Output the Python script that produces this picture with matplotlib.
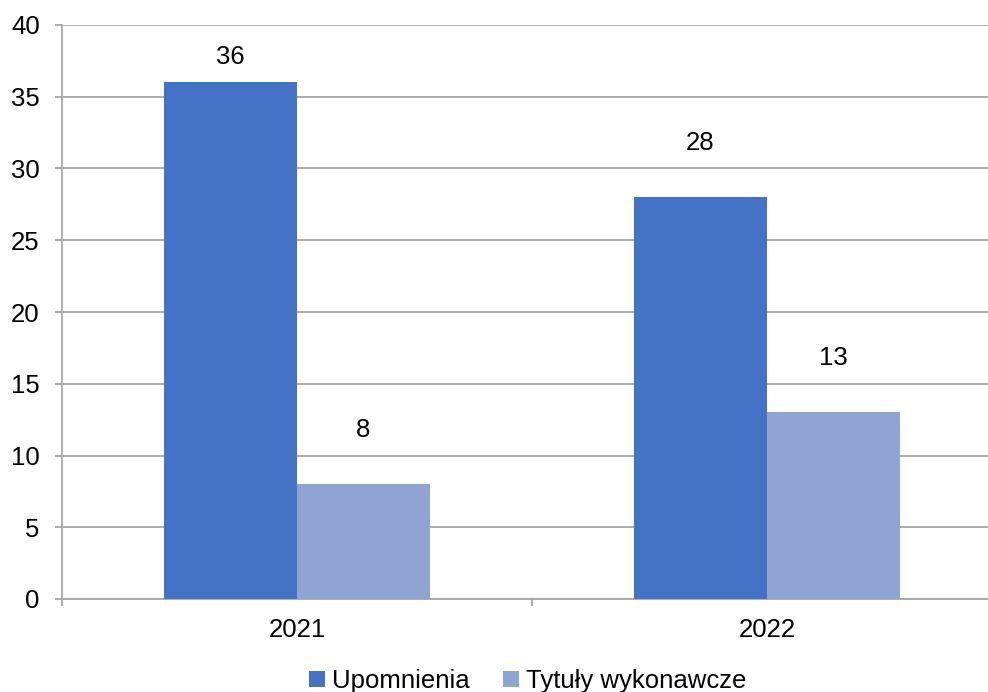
import matplotlib
matplotlib.use('Agg')
import matplotlib.pyplot as plt
import numpy as np

plt.rcParams['font.family'] = ['Liberation Sans', 'DejaVu Sans']

years = ['2021', '2022']
upomnienia = [36, 28]
tytuly = [8, 13]
series_names = ['Upomnienia', 'Tytuły wykonawcze']

fig = plt.figure(figsize=(9.88, 6.92), dpi=100)
ax = fig.add_axes([62 / 988, 93 / 692, 940 / 988, 574 / 692])

x = np.arange(len(years))
w = 0.283
b1 = ax.bar(x - w / 2, upomnienia, w, color='#4472C4', label=series_names[0], zorder=3)
b2 = ax.bar(x + w / 2, tytuly, w, color='#90A4D4', label=series_names[1], zorder=3)

for bars in (b1, b2):
    for r in bars:
        v = r.get_height()
        ax.text(r.get_x() + r.get_width() / 2, min(v + 3.8, 37.8), '%d' % v,
                ha='center', va='center', fontsize=18.5)

ax.set_xlim(-0.5, 1.5)
ax.set_ylim(0, 40)
ax.set_yticks(range(0, 41, 5))
ax.yaxis.grid(True, color='#A6A6A6', linewidth=1.3, zorder=0)
ax.set_xticks(x)
ax.set_xticklabels(years)
ax.set_xticks([-0.5, 0.5, 1.5], minor=True)
ax.tick_params(axis='x', which='major', length=0, pad=14, labelsize=18.5)
ax.tick_params(axis='x', which='minor', length=5, color='#A6A6A6', width=1.3)
ax.tick_params(axis='y', length=5, color='#A6A6A6', width=1.3, labelsize=18.5, pad=11)
for s in ('top', 'right'):
    ax.spines[s].set_visible(False)
for s in ('left', 'bottom'):
    ax.spines[s].set_color('#A6A6A6')
    ax.spines[s].set_linewidth(1.3)

fig.legend(loc='center', bbox_to_anchor=(528 / 988, 11 / 692), ncol=2, frameon=False,
           fontsize=18.5, handlelength=0.6, handleheight=0.6, handletextpad=0.3,
           columnspacing=1.3)

fig.savefig('out.png', dpi=100)
